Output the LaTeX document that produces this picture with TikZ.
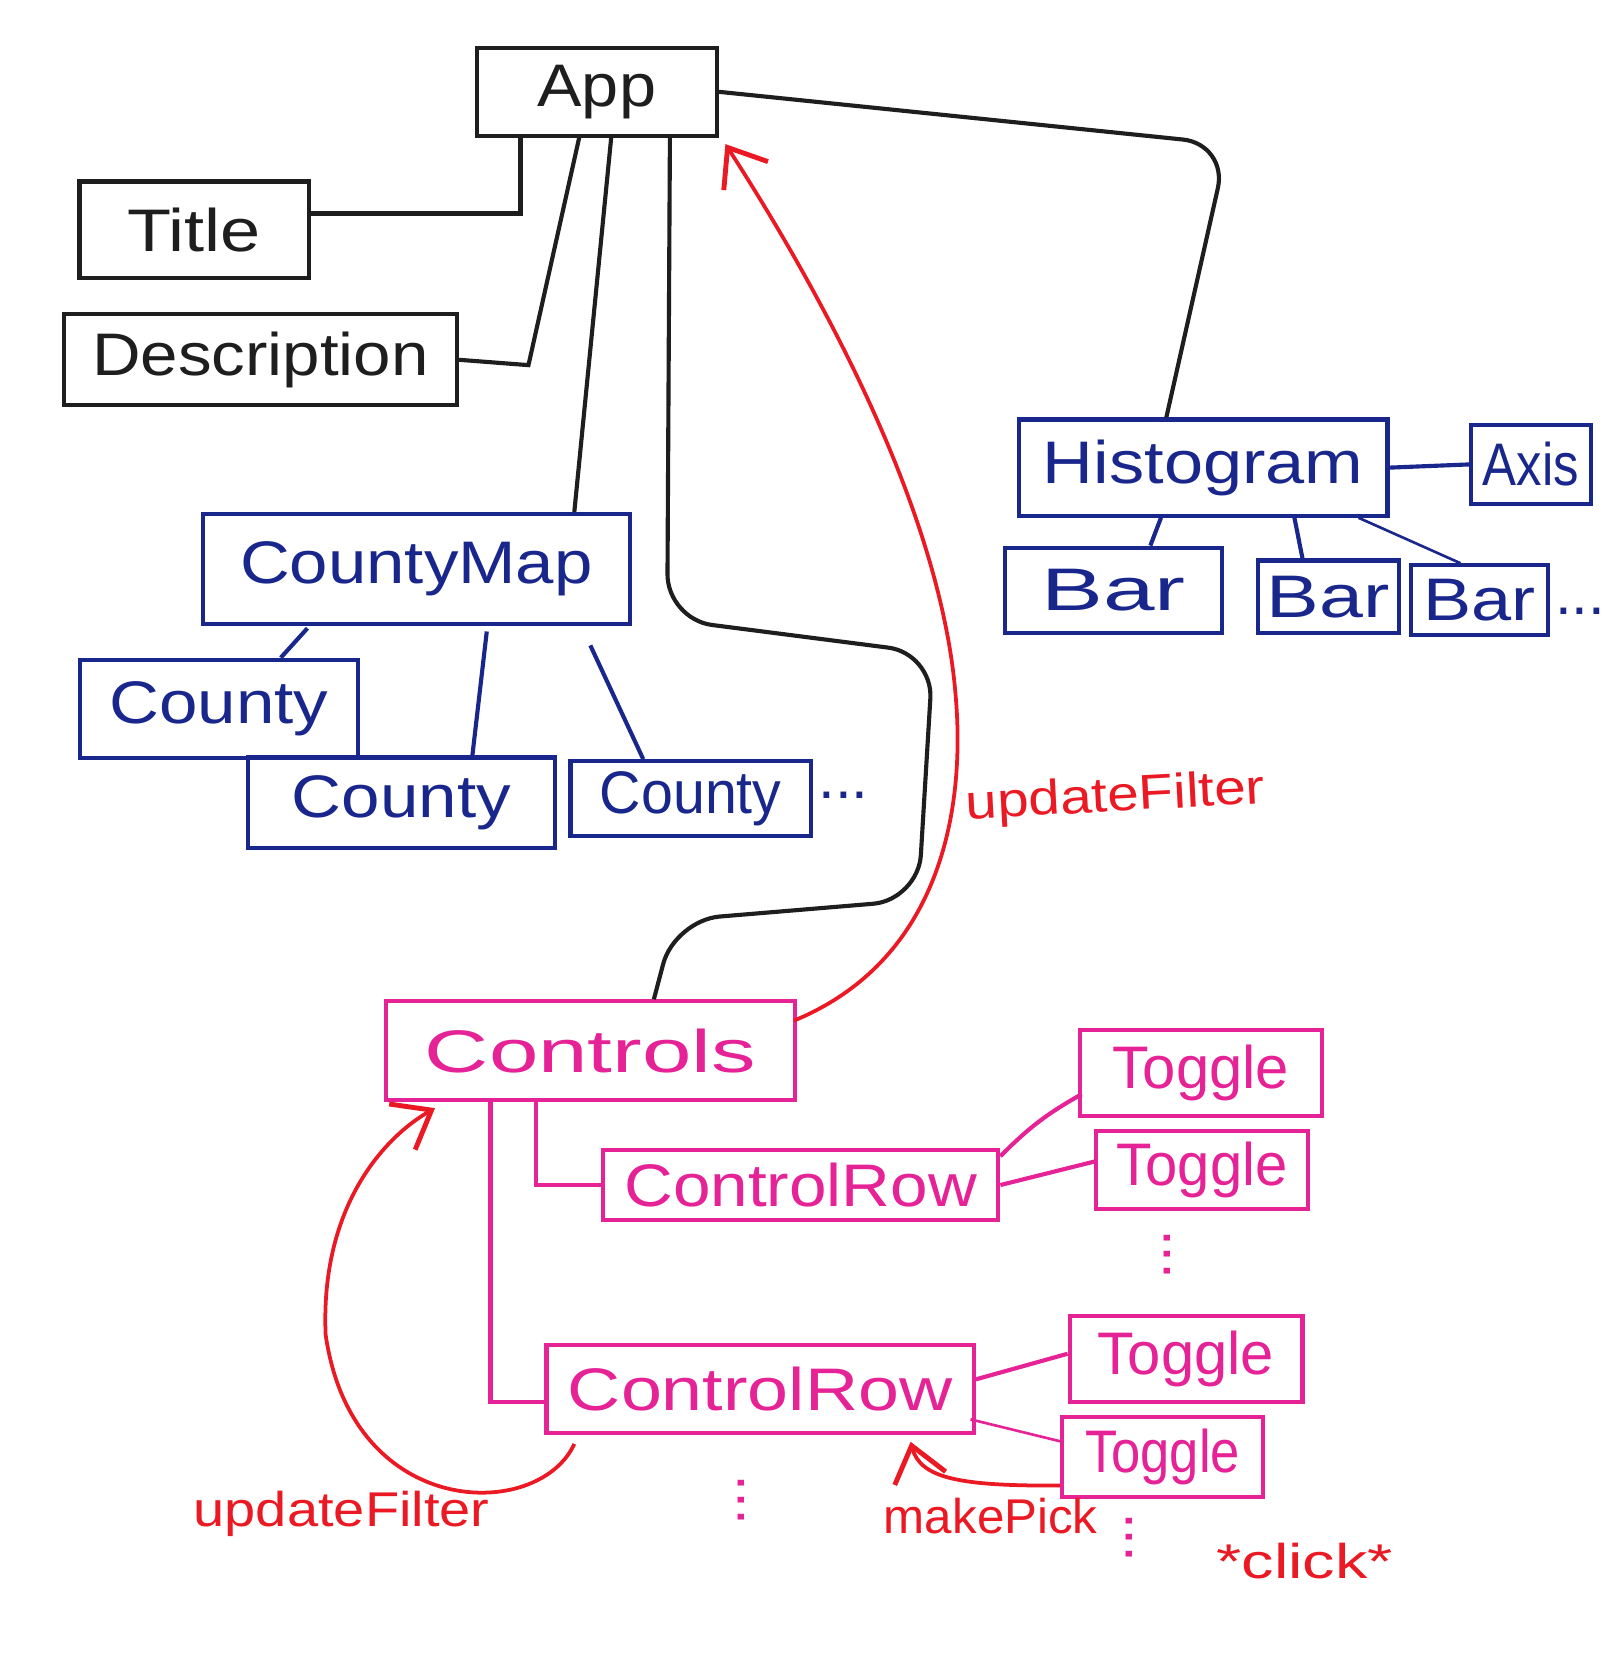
\documentclass[tikz,border=0pt]{standalone}
\usepackage{fontspec}
\setmainfont{Liberation Sans}
\usetikzlibrary{calc,arrows.meta}
\definecolor{ink}{RGB}{30,30,30}
\definecolor{navy}{RGB}{25,38,140}
\definecolor{pinkm}{RGB}{230,35,150}
\definecolor{redm}{RGB}{235,25,35}
\newcommand{\fitw}[2]{\resizebox{#1}{\height}{#2}}
\begin{document}
\begin{tikzpicture}[x=0.01cm,y=-0.01cm,
  box/.style={draw,line width=1.1pt,inner sep=0pt,font=\fontsize{16}{18}\selectfont},
  kbox/.style={box,draw=ink,text=ink},
  bbox/.style={box,draw=navy,text=navy},
  mbox/.style={box,draw=pinkm,text=pinkm},
  kline/.style={draw=ink,line width=1.1pt},
  bline/.style={draw=navy,line width=1.1pt},
  mline/.style={draw=pinkm,line width=1.1pt},
  rarrow/.style={draw=redm,line width=1pt,-{Straight Barb[length=9pt,width=14pt,line width=1.3pt]}},
  rlab/.style={text=redm,font=\fontsize{13}{15}\selectfont,inner sep=0pt},
  dotsn/.style={inner sep=0pt,font=\fontsize{16}{18}\selectfont},
]
\useasboundingbox (0,0) rectangle (1516,1568);
\fill[white] (0,0) rectangle (1516,1568);

% black boxes
\node[kbox,minimum width=2.25cm,minimum height=0.82cm] (App) at (559,86) {\fitw{1.11cm}{App}};
\node[kbox,minimum width=2.15cm,minimum height=0.90cm] (Title) at (182,215) {\fitw{1.25cm}{Title}};
\node[kbox,minimum width=3.68cm,minimum height=0.85cm] (Description) at (244,337) {\fitw{3.15cm}{Description}};

% blue boxes
\node[bbox,minimum width=4.00cm,minimum height=1.03cm] (CountyMap) at (390,533) {\fitw{3.3cm}{CountyMap}};
\node[bbox,minimum width=2.60cm,minimum height=0.92cm] (County1) at (205,664) {\fitw{2.05cm}{County}};
\node[bbox,minimum width=2.87cm,minimum height=0.85cm] (County2) at (376,752) {\fitw{2.05cm}{County}};
\node[bbox,minimum width=2.25cm,minimum height=0.70cm] (County3) at (647,748) {\fitw{1.7cm}{County}};
\node[dotsn,text=navy] (dotsA) at (790,745) {...};
\node[bbox,minimum width=3.45cm,minimum height=0.90cm] (Histogram) at (1127,438) {\fitw{3.0cm}{Histogram}};
\node[bbox,minimum width=1.12cm,minimum height=0.74cm] (Axis) at (1434,435) {\fitw{0.9cm}{Axis}};
\node[bbox,minimum width=2.03cm,minimum height=0.80cm] (Bar1) at (1043,553) {\fitw{1.35cm}{Bar}};
\node[bbox,minimum width=1.32cm,minimum height=0.68cm] (Bar2) at (1244,559) {\fitw{1.15cm}{Bar}};
\node[bbox,minimum width=1.28cm,minimum height=0.65cm] (Bar3) at (1386,562) {\fitw{1.05cm}{Bar}};
\node[dotsn,text=navy] (dotsB) at (1480,573) {...};

% pink boxes
\node[mbox,minimum width=3.83cm,minimum height=0.92cm] (Controls) at (553,984) {\fitw{3.1cm}{Controls}};
\node[mbox,minimum width=3.70cm,minimum height=0.66cm] (CR1) at (750,1110) {\fitw{3.3cm}{ControlRow}};
\node[mbox,minimum width=4.00cm,minimum height=0.83cm] (CR2) at (712,1301) {\fitw{3.6cm}{ControlRow}};
\node[mbox,minimum width=2.26cm,minimum height=0.80cm] (T1) at (1125,1005) {\fitw{1.65cm}{Toggle}};
\node[mbox,minimum width=1.98cm,minimum height=0.73cm] (T2) at (1126,1096) {\fitw{1.6cm}{Toggle}};
\node[mbox,minimum width=2.18cm,minimum height=0.80cm] (T3) at (1111,1273) {\fitw{1.65cm}{Toggle}};
\node[mbox,minimum width=1.88cm,minimum height=0.75cm] (T4) at (1089,1365) {\fitw{1.45cm}{Toggle}};
\node[dotsn,text=pinkm,rotate=90] (vd1) at (1093,1175) {...};
\node[dotsn,text=pinkm,rotate=90] (vd2) at (694,1405) {...};
\node[dotsn,text=pinkm,rotate=90] (vd3) at (1058,1440) {...};

% red labels
\node[rlab,rotate=3] (uf1) at (1045,748) {\fitw{2.8cm}{updateFilter}};
\node[rlab] (uf2) at (320,1418) {\fitw{2.77cm}{updateFilter}};
\node[rlab] (mp) at (928,1420) {\fitw{2.0cm}{makePick}};
\node[rlab] (click) at (1222,1462) {\fitw{1.65cm}{*click*}};

% black connectors
\draw[kline] ($(App.south west)+(43,0)$) |- ($(Title.east)+(0,-15)$);
\draw[kline] ($(App.south west)+(98,0)$) -- (495,342) -- (Description.east);
\draw[kline] ($(App.south west)+(128,0)$) -- ($(CountyMap.north west)+(350,0)$);
\draw[kline,rounded corners=12pt] ($(App.south west)+(183,0)$) -- (625,580) -- (874,612) -- (860,843) -- (632,862) -- ($(Controls.north west)+(253,0)$);
\draw[kline,rounded corners=12pt] (App.east) -- (1150,135) -- ($(Histogram.north west)+(140,0)$);

% blue connectors
\draw[bline] ($(CountyMap.south west)+(100,2)$) -- ($(County1.north west)+(190,0)$);
\draw[bline] ($(CountyMap.south west)+(268,5)$) -- ($(County2.north west)+(212,0)$);
\draw[bline] ($(CountyMap.south west)+(365,18)$) -- ($(County3.north west)+(70,0)$);
\draw[bline] (Histogram.east) -- (Axis.west);
\draw[bline] ($(Histogram.south west)+(135,0)$) -- ($(Bar1.north west)+(138,0)$);
\draw[bline] ($(Histogram.south west)+(260,0)$) -- ($(Bar2.north west)+(44,0)$);
\draw[bline,line width=0.7pt] ($(Histogram.south west)+(320,0)$) -- ($(Bar3.north west)+(48,0)$);

% pink connectors
\draw[mline] ($(Controls.south west)+(143,0)$) |- (CR1.west);
\draw[mline] ($(Controls.south west)+(100,0)$) |- ($(CR2.west)+(0,12)$);
\draw[mline] ($(CR1.north east)+(0,8)$) to[bend left=8] ($(T1.west)+(3,20)$);
\draw[mline] (CR1.east) -- ($(T2.west)+(0,-8)$);
\draw[mline] ($(CR2.east)+(0,-9)$) -- ($(T3.west)+(0,-5)$);
\draw[mline,line width=0.7pt] ($(CR2.south east)+(-5,-15)$) -- ($(T4.west)+(0,-15)$);

% red arrows
\draw[rarrow] ($(Controls.north east)+(-3,20)$) .. controls (880,900) and (905,760) .. (895,650) .. controls (880,470) and (760,260) .. ($(App.south east)+(6,6)$);
\draw[rarrow] ($(CR2.south west)+(28,8)$) .. controls (505,1425) and (330,1425) .. (305,1250) .. controls (300,1130) and (360,1065) .. ($(Controls.south west)+(48,6)$);
\draw[rarrow] ($(T4.south west)+(0,-13)$) .. controls (900,1392) and (862,1385) .. ($(CR2.south west)+(343,6)$);
\end{tikzpicture}
\end{document}
